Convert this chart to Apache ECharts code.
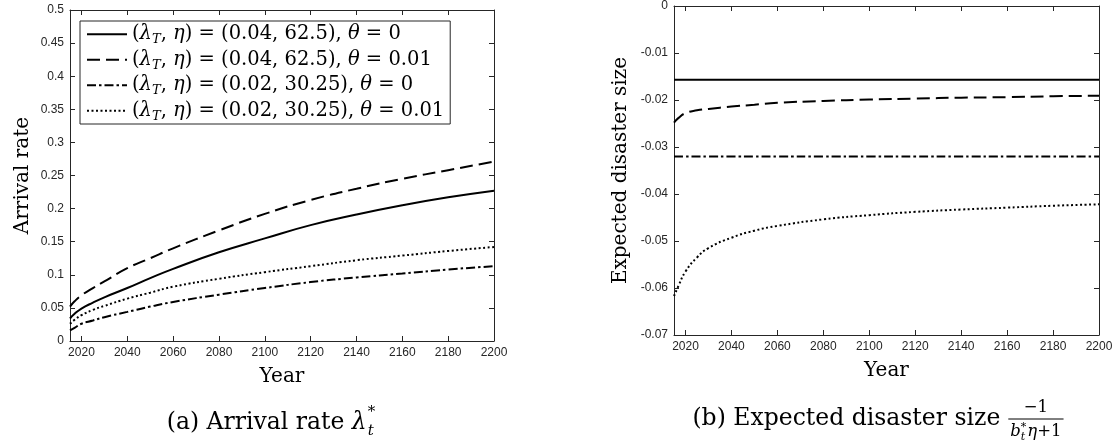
<!DOCTYPE html>
<html>
<head>
<meta charset="utf-8">
<script src="https://cdn.jsdelivr.net/npm/echarts@6/dist/echarts.min.js"></script>
<style>
  html, body { margin: 0; padding: 0; background: #fff; }
  #main { width: 1118px; height: 442px; }
</style>
</head>
<body>
<div id="main"></div>
<script>
// Sample years (x values) shared by every curve
const years = [2015, 2017, 2020, 2025, 2030, 2040, 2050, 2060, 2080, 2100, 2120, 2140, 2160, 2180, 2200];
const yearTicks = [2020, 2040, 2060, 2080, 2100, 2120, 2140, 2160, 2180, 2200];

// Parameter sets: (lambda_T, eta, theta)
const lambdaT = ['0.04', '0.04', '0.02', '0.02'];
const etaVals = ['62.5', '62.5', '30.25', '30.25'];
const thetaVals = ['0', '0.01', '0', '0.01'];

// Panel (a): optimal arrival rate
const rateA = [0.034, 0.041, 0.049, 0.058, 0.066, 0.080, 0.095, 0.109, 0.134, 0.155, 0.175, 0.191, 0.205, 0.217, 0.227];
const rateB = [0.052, 0.060, 0.069, 0.080, 0.090, 0.110, 0.125, 0.140, 0.167, 0.192, 0.213, 0.230, 0.245, 0.258, 0.271];
const rateC = [0.016, 0.020, 0.026, 0.031, 0.036, 0.044, 0.052, 0.059, 0.070, 0.080, 0.089, 0.096, 0.102, 0.108, 0.113];
const rateD = [0.026, 0.032, 0.039, 0.047, 0.053, 0.064, 0.073, 0.082, 0.094, 0.104, 0.113, 0.122, 0.129, 0.136, 0.142];

// Panel (b): expected disaster size
const sizeA = [-0.0157, -0.0157, -0.0157, -0.0157, -0.0157, -0.0157, -0.0157, -0.0157, -0.0157, -0.0157, -0.0157, -0.0157, -0.0157, -0.0157, -0.0157];
const sizeB = [-0.0248, -0.0238, -0.0228, -0.0222, -0.0219, -0.0214, -0.0210, -0.0206, -0.0202, -0.0199, -0.0197, -0.0195, -0.0194, -0.0192, -0.0191];
const sizeC = [-0.032, -0.032, -0.032, -0.032, -0.032, -0.032, -0.032, -0.032, -0.032, -0.032, -0.032, -0.032, -0.032, -0.032, -0.032];
const sizeD = [-0.0617, -0.0595, -0.0565, -0.0535, -0.0515, -0.0493, -0.0478, -0.0468, -0.0454, -0.0445, -0.0438, -0.0433, -0.0429, -0.0425, -0.0422];

const INK = '#262626';
const SERIF = '"DejaVu Serif", serif';
const SANS = '"Liberation Sans", Arial, sans-serif';
const NAME_SIZE = 20;

const lineTypes = ['solid', [13, 6], [9, 3, 2.5, 3], [2, 2.5]];
const seriesNames = lambdaT.map((l, i) => '(λT, η) = (' + l + ', ' + etaVals[i] + '), θ = ' + thetaVals[i]);

function pairs(ys) { return years.map((x, i) => [x, ys[i]]); }

// Four-sided axis box with inward ticks
function boxAxes(gridIndex, yMin, yMax, yStep, yName, yNameGap) {
  const line = { show: true, onZero: false, lineStyle: { color: INK, width: 1 } };
  const tick = { show: true, inside: true, length: 5, lineStyle: { color: INK, width: 1 } };
  const xTick = Object.assign({}, tick, { customValues: yearTicks });
  const xBottom = {
    gridIndex: gridIndex, type: 'value', position: 'bottom', min: 2015, max: 2200,
    axisLine: line, axisTick: xTick, splitLine: { show: false },
    axisLabel: { customValues: yearTicks, formatter: v => String(v), color: INK, fontFamily: SANS, fontSize: 12, margin: 6 },
    name: 'Year', nameLocation: 'middle', nameGap: 26,
    nameTextStyle: { color: '#000', fontFamily: SERIF, fontSize: NAME_SIZE }
  };
  const xTop = {
    gridIndex: gridIndex, type: 'value', position: 'top', min: 2015, max: 2200,
    axisLine: line, axisTick: xTick, splitLine: { show: false }, axisLabel: { show: false }
  };
  const yLeft = {
    gridIndex: gridIndex, type: 'value', position: 'left', min: yMin, max: yMax, interval: yStep,
    axisLine: line, axisTick: tick, splitLine: { show: false },
    axisLabel: { color: INK, fontFamily: SANS, fontSize: 12, margin: 6 },
    name: yName, nameLocation: 'middle', nameGap: yNameGap, nameRotate: 90,
    nameTextStyle: { color: '#000', fontFamily: SERIF, fontSize: NAME_SIZE }
  };
  const yRight = {
    gridIndex: gridIndex, type: 'value', position: 'right', min: yMin, max: yMax, interval: yStep,
    axisLine: line, axisTick: tick, splitLine: { show: false }, axisLabel: { show: false }
  };
  return { x: [xBottom, xTop], y: [yLeft, yRight] };
}

const axA = boxAxes(0, 0, 0.5, 0.05, 'Arrival rate', 37);
const axB = boxAxes(1, -0.07, 0, 0.01, 'Expected disaster size', 43);

function mkSeries(name, data, idx, xi, yi) {
  return {
    name: name, type: 'line', data: pairs(data), xAxisIndex: xi, yAxisIndex: yi,
    symbol: 'none', smooth: true, silent: true,
    itemStyle: { color: '#000' },
    lineStyle: { color: '#000', width: 2, type: lineTypes[idx] }
  };
}

const LF = 19.5;
const legendRich = {
  m: { fontFamily: SERIF, fontSize: LF, color: '#000', lineHeight: 24.5, verticalAlign: 'middle' },
  i: { fontFamily: SERIF, fontSize: LF, fontStyle: 'italic', color: '#000', lineHeight: 24.5, verticalAlign: 'middle' },
  s: { fontFamily: SERIF, fontSize: 13, fontStyle: 'italic', color: '#000', lineHeight: 13, verticalAlign: 'bottom' }
};

// Caption layout helpers (text width measured at run time)
const ctx = document.createElement('canvas').getContext('2d');
function wid(text, font) { ctx.font = font; return ctx.measureText(text).width; }
function txt(x, y, text, font, align) {
  return { type: 'text', x: x, y: y, silent: true,
    style: { text: text, font: font, fill: '#000', align: align || 'left', verticalAlign: 'middle' } };
}

const CAP = '23.5px ' + SERIF, CAPI = 'italic 23.5px ' + SERIF;
const SCR = '15px ' + SERIF, SCRI = 'italic 15px ' + SERIF;
const graphics = [];

// (a) Arrival rate λ*_t
(function () {
  const main = '(a) Arrival rate ';
  const w = wid(main, CAP) + wid('λ', CAPI) + 1 + wid('*', SCR);
  let x = 271 - w / 2, y = 423;
  graphics.push(txt(x, y, main, CAP));
  x += wid(main, CAP);
  graphics.push(txt(x, y, 'λ', CAPI));
  x += wid('λ', CAPI) + 1;
  graphics.push(txt(x, y - 11, '*', SCR));
  graphics.push(txt(x, y + 8, 't', SCRI));
})();

// (b) Expected disaster size -1 / (b*_t η + 1)
(function () {
  const main = '(b) Expected disaster size';
  const F = '16.5px ' + SERIF, FI = 'italic 16.5px ' + SERIF;
  const S = '11px ' + SERIF, SI = 'italic 11px ' + SERIF;
  const denW = wid('b', FI) + wid('*', S) + 1 + wid('η', FI) + wid('+1', F);
  const gap = 8;
  const total = wid(main, CAP) + gap + denW + 4;
  let x = 878 - total / 2;
  const y = 419;
  graphics.push(txt(x, y, main, CAP));
  x += wid(main, CAP) + gap;
  const barL = x, barR = x + denW + 4;
  graphics.push({ type: 'line', silent: true, shape: { x1: barL, y1: y, x2: barR, y2: y }, style: { stroke: '#000', lineWidth: 1 } });
  graphics.push(txt((barL + barR) / 2, y - 11, '−1', F, 'center'));
  let dx = barL + 2;
  const dy = y + 13;
  graphics.push(txt(dx, dy, 'b', FI));
  dx += wid('b', FI);
  graphics.push(txt(dx, dy - 5, '*', S));
  graphics.push(txt(dx, dy + 5, 't', SI));
  dx += wid('*', S) + 1;
  graphics.push(txt(dx, dy, 'η', FI));
  dx += wid('η', FI);
  graphics.push(txt(dx, dy, '+1', F));
})();

const chart = echarts.init(document.getElementById('main'), null, { renderer: 'canvas' });
chart.setOption({
  animation: false,
  backgroundColor: '#fff',
  grid: [
    { left: 70, top: 10, width: 424, height: 331 },
    { left: 674, top: 5, width: 425, height: 330 }
  ],
  xAxis: [axA.x[0], axA.x[1], axB.x[0], axB.x[1]],
  yAxis: [axA.y[0], axA.y[1], axB.y[0], axB.y[1]],
  legend: {
    data: seriesNames,
    left: 80, top: 21, orient: 'vertical',
    itemWidth: 40, itemHeight: 14, itemGap: 1,
    padding: [1, 6, 1, 6],
    borderColor: INK, borderWidth: 1, backgroundColor: '#fff',
    selectedMode: false,
    itemStyle: { opacity: 0 },
    formatter: function (name) {
      const i = seriesNames.indexOf(name);
      return '{m|(}{i|λ}{s|T}{m|, }{i|η}{m|) = (' + lambdaT[i] + ', ' + etaVals[i] + '), }{i|θ}{m| = ' + thetaVals[i] + '}';
    },
    textStyle: { rich: legendRich, lineHeight: 24.5, padding: [0, 0, 0, 0] }
  },
  series: [
    mkSeries(seriesNames[0], rateA, 0, 0, 0),
    mkSeries(seriesNames[1], rateB, 1, 0, 0),
    mkSeries(seriesNames[2], rateC, 2, 0, 0),
    mkSeries(seriesNames[3], rateD, 3, 0, 0),
    mkSeries(seriesNames[0], sizeA, 0, 2, 2),
    mkSeries(seriesNames[1], sizeB, 1, 2, 2),
    mkSeries(seriesNames[2], sizeC, 2, 2, 2),
    mkSeries(seriesNames[3], sizeD, 3, 2, 2)
  ],
  graphic: graphics
});
</script>
</body>
</html>
